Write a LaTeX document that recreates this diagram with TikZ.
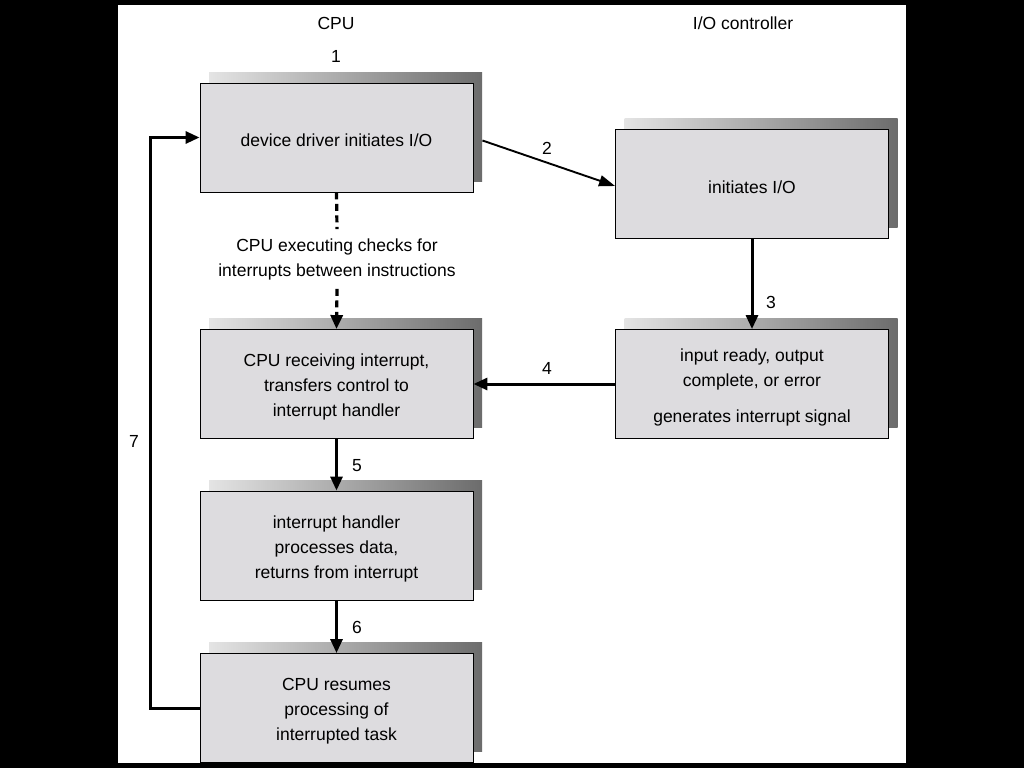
\documentclass[tikz,border=0pt]{standalone}
\usepackage{fontspec}
\setmainfont{Liberation Sans}
\usetikzlibrary{arrows.meta}
\definecolor{boxfill}{RGB}{221,220,223}
\definecolor{shlight}{RGB}{228,228,228}
\definecolor{shdark}{RGB}{108,108,108}
\begin{document}
\begin{tikzpicture}[x=1pt,y=-1pt,
  font=\fontsize{17.5}{25}\selectfont,
  stepbox/.style={draw=black, line width=0.9pt, fill=boxfill, minimum width=273pt, minimum height=109pt,
    inner sep=0pt,
    preaction={draw=none, left color=shlight, right color=shdark, transform canvas={xshift=9pt,yshift=11pt}}},
  txt/.style={align=center, inner sep=0pt, yshift=-3pt},
  lbl/.style={inner sep=0pt},
  arr/.style={line width=3pt, -{Triangle[length=14pt,width=12pt]}},
  thinarr/.style={line width=1.9pt, -{Triangle[length=16pt,width=11pt]}}
]
\useasboundingbox (0,0) rectangle (1024,768);
\fill[black] (0,0) rectangle (1024,768);
\fill[white] (118,5) rectangle (906,763);

\node[lbl] (cpu) at (336,23) {CPU};
\node[lbl] (ioc) at (743,23) {I/O controller};

\node[stepbox] (b1) at (336.5,137.5) {};
\node[stepbox] (b2) at (752,184) {};
\node[stepbox] (b3) at (336.5,384) {};
\node[stepbox] (b4) at (752,384) {};
\node[stepbox] (b5) at (336.5,545.5) {};
\node[stepbox] (b6) at (336.5,708) {};

\node[txt] (t1) at (b1) {device driver initiates I/O};
\node[txt] (t2) at (b2) {initiates I/O};
\node[txt] (t3) at (b3) {CPU receiving interrupt,\\transfers control to\\interrupt handler};
\node[txt] (t4) at (b4) {input ready, output\\complete, or error\\[11pt]generates interrupt signal};
\node[txt] (t5) at (b5) {interrupt handler\\processes data,\\returns from interrupt};
\node[txt] (t6) at (b6) {CPU resumes\\processing of\\interrupted task};

\node[align=center, inner sep=9pt] (chk) at (337,259) {CPU executing checks for\\interrupts between instructions};

\node[lbl] (n1) at (336,56) {1};
\node[lbl] (n2) at (547,148) {2};
\node[lbl] (n3) at (771,302) {3};
\node[lbl] (n4) at (547,368) {4};
\node[lbl] (n5) at (357,466) {5};
\node[lbl] (n6) at (357,627) {6};
\node[lbl] (n7) at (134,441) {7};

\draw[thinarr] ([xshift=9pt,yshift=-3pt]b1.east) -- ([yshift=-2pt]b2.west);
\draw[line width=3.2pt, dash pattern=on 7pt off 4.5pt] (b1.south) -- (chk.north);
\draw[arr, line width=3.2pt, dash pattern=on 7pt off 4.5pt] (chk.south) -- (b3.north);
\draw[arr] (b2.south) -- (b4.north);
\draw[arr] (b4.west) -- (b3.east);
\draw[arr] (b3.south) -- (b5.north);
\draw[arr] (b5.south) -- (b6.north);
\draw[arr] (b6.west) -- ++(-49,0) |- (b1.west);
\end{tikzpicture}
\end{document}
